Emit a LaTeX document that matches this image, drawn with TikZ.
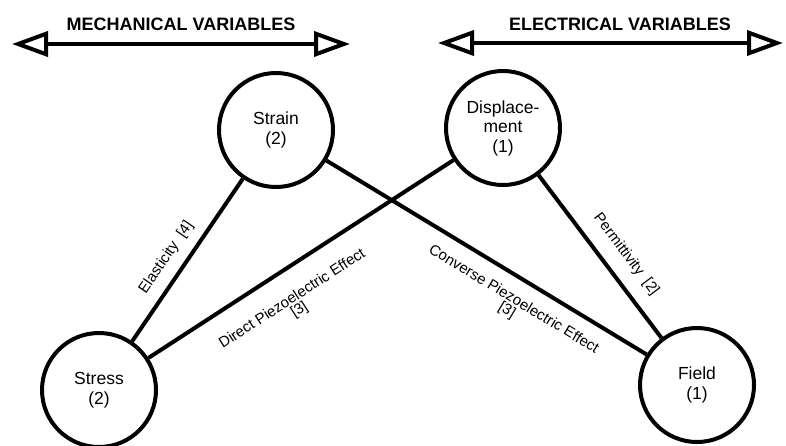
\documentclass[tikz,border=0pt]{standalone}
\usepackage{fontspec}
\setmainfont{Liberation Sans}
\usetikzlibrary{arrows.meta}
\begin{document}
\begin{tikzpicture}[x=1pt,y=-1pt,
  var/.style={circle,draw,line width=4pt,minimum size=114pt,inner sep=0pt,align=center,font=\fontsize{17.5}{19.5}\selectfont},
  link/.style={line width=4pt},
  lab/.style={font=\fontsize{15}{16}\selectfont,sloped,align=center,inner sep=7pt},
  dblhead/.style={line width=4pt,{Triangle[open,length=36pt,width=25pt]}-{Triangle[open,length=36pt,width=25pt]}},
  ttl/.style={font=\fontsize{18}{20}\selectfont\bfseries,inner sep=0pt}]
\useasboundingbox (0,0) rectangle (786,445);
% titles and arrows
\node[ttl] (mt) at (181,24) {MECHANICAL VARIABLES};
\node[ttl] (et) at (620,24) {ELECTRICAL VARIABLES};
\coordinate (ml) at (12,44);
\coordinate (mr) at (350,44);
\coordinate (el) at (438,43);
\coordinate (er) at (783,43);
\draw[dblhead] (ml) -- (mr);
\draw[dblhead] (el) -- (er);
% variables
\node[var] (strain) at (276,130) {Strain\\(2)};
\node[var] (disp) at (503,128) {Displace-\\ment\\(1)};
\node[var] (stress) at (99,390) {Stress\\(2)};
\node[var] (field) at (697,385) {Field\\(1)};
% links
\draw[link] (stress) -- node[lab,above,pos=0.45,inner sep=10pt] (le) {Elasticity\ \ [4]} (strain);
\draw[link] (stress) -- node[lab,below,pos=0.42,inner sep=20pt] (ld) {Direct Piezoelectric Effect\\[-3pt][3]} (disp);
\draw[link] (strain) -- node[lab,below,pos=0.62,inner sep=13pt] (lc) {Converse Piezoelectric Effect\\[-3pt][3]} (field);
\draw[link] (disp) -- node[lab,above,pos=0.57,inner sep=13pt] (lp) {Permittivity\ \ [2]} (field);
\end{tikzpicture}
\end{document}
